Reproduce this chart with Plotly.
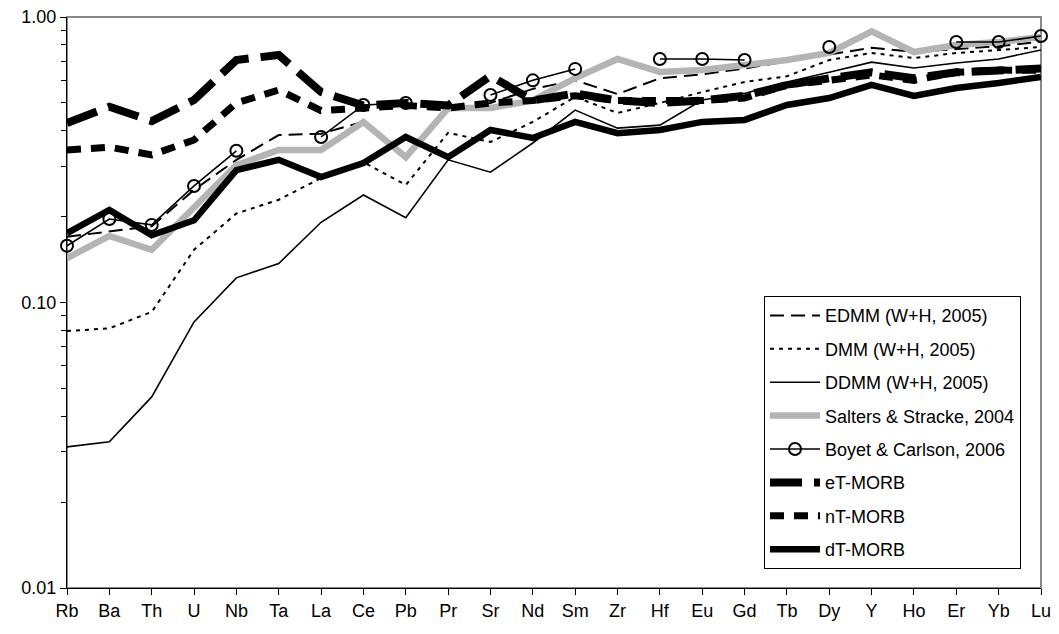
import plotly.graph_objects as go

# Trace-element abundances, normalised (log scale)
elements = ["Rb", "Ba", "Th", "U", "Nb", "Ta", "La", "Ce", "Pb", "Pr", "Sr", "Nd",
            "Sm", "Zr", "Hf", "Eu", "Gd", "Tb", "Dy", "Y", "Ho", "Er", "Yb", "Lu"]

edmm = [0.170, 0.177, 0.185, 0.248, 0.316, 0.386, 0.390, 0.430, 0.320, 0.470, 0.500, 0.560,
        0.600, 0.537, 0.610, 0.630, 0.660, 0.700, 0.740, 0.780, 0.755, 0.770, 0.790, 0.820]
dmm = [0.0794, 0.0812, 0.0927, 0.153, 0.205, 0.229, 0.273, 0.310, 0.258, 0.393, 0.365, 0.429,
       0.525, 0.461, 0.500, 0.546, 0.592, 0.620, 0.707, 0.748, 0.718, 0.748, 0.766, 0.785]
ddmm = [0.0312, 0.0325, 0.0467, 0.0855, 0.122, 0.137, 0.191, 0.238, 0.198, 0.316, 0.286, 0.362,
        0.472, 0.408, 0.418, 0.512, 0.540, 0.592, 0.640, 0.695, 0.663, 0.690, 0.713, 0.766]
salters = [0.143, 0.171, 0.153, 0.214, 0.303, 0.342, 0.342, 0.429, 0.323, 0.480, 0.480, 0.510,
           0.611, 0.713, 0.642, 0.652, 0.679, 0.707, 0.748, 0.890, 0.754, 0.798, 0.817, 0.851]
boyet = [0.158, 0.196, 0.187, 0.256, 0.340, None, 0.380, 0.492, 0.500, None, 0.533, 0.600,
         0.658, None, 0.713, 0.713, 0.707, None, 0.785, None, None, 0.817, 0.817, 0.858]
et_morb = [0.425, 0.485, 0.432, 0.512, 0.707, 0.736, 0.546, 0.490, 0.500, 0.490, 0.622, 0.510,
           0.540, 0.510, 0.500, 0.510, 0.530, 0.578, 0.610, 0.640, 0.610, 0.640, 0.650, 0.660]
nt_morb = [0.342, 0.350, 0.329, 0.371, 0.500, 0.555, 0.470, 0.480, 0.490, 0.480, 0.500, 0.510,
           0.530, 0.510, 0.510, 0.510, 0.520, 0.578, 0.600, 0.627, 0.600, 0.640, 0.652, 0.650]
dt_morb = [0.175, 0.211, 0.172, 0.194, 0.291, 0.316, 0.275, 0.308, 0.380, 0.323, 0.402, 0.377,
           0.429, 0.392, 0.402, 0.429, 0.436, 0.492, 0.520, 0.578, 0.529, 0.564, 0.587, 0.617]

series = [
    ("EDMM (W+H, 2005)", edmm, dict(color="black", width=2, dash="14px,7px"), None),
    ("DMM (W+H, 2005)", dmm, dict(color="black", width=2, dash="4px,5px"), None),
    ("DDMM (W+H, 2005)", ddmm, dict(color="black", width=1.6), None),
    ("Salters & Stracke, 2004", salters, dict(color="rgb(180,180,180)", width=6.5), None),
    ("Boyet & Carlson, 2006", boyet, dict(color="black", width=1.6),
     dict(symbol="circle-open", size=12, color="black", line=dict(width=2))),
    ("eT-MORB", et_morb, dict(color="black", width=8, dash="32px,12px"), None),
    ("nT-MORB", nt_morb, dict(color="black", width=7, dash="14px,10px"), None),
    ("dT-MORB", dt_morb, dict(color="black", width=6.5), None),
]

fig = go.Figure()
for i, (name, vals, line, marker) in enumerate(series):
    fig.add_trace(go.Scatter(
        x=elements, y=vals, name=name,
        mode="lines+markers" if marker else "lines",
        line=line, marker=marker, connectgaps=False, cliponaxis=False,
        legendgroup=f"g{i}",
    ))

fig.update_layout(
    width=1059, height=634,
    margin=dict(l=67, r=18, t=17, b=46, autoexpand=False),
    paper_bgcolor="white", plot_bgcolor="white",
    font=dict(family="Liberation Sans, Arial, sans-serif", size=18, color="black"),
    showlegend=True,
    legend=dict(
        x=0.7156, y=0.511, xanchor="left", yanchor="top",
        bgcolor="white", bordercolor="black", borderwidth=1,
        font=dict(size=18), itemwidth=50, tracegroupgap=7,
    ),
    shapes=[dict(type="rect", xref="paper", yref="paper", x0=0, y0=0, x1=1, y1=1,
                 line=dict(color="#888888", width=2), layer="below")],
)

fig.update_xaxes(
    type="category", range=[0, len(elements) - 1], automargin=False,
    showline=True, linecolor="black", linewidth=1,
    ticks="outside", ticklen=6, tickcolor="black",
    showgrid=False, zeroline=False, tickfont=dict(size=18),
)
fig.update_yaxes(
    type="log", range=[-2, 0], dtick=1, tickformat=".2f", automargin=False,
    showline=True, linecolor="black", linewidth=1,
    ticks="outside", ticklen=6, tickcolor="black",
    minor=dict(ticks="outside", ticklen=5, tickcolor="black", dtick="D1", showgrid=False),
    showgrid=False, zeroline=False, tickfont=dict(size=18),
)

fig.write_html("out.html")
